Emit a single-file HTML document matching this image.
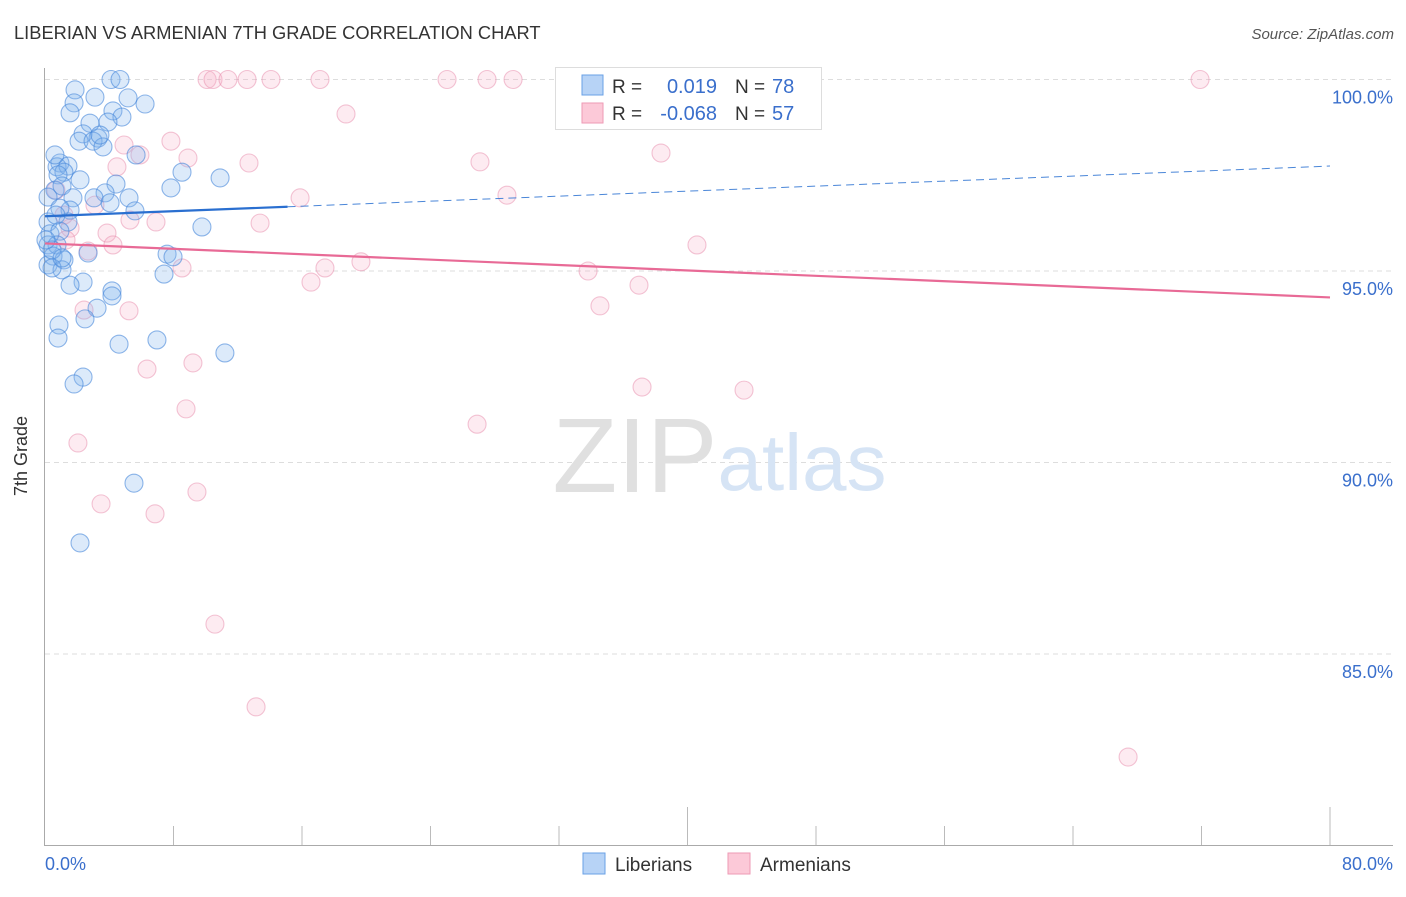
<!DOCTYPE html>
<html><head><meta charset="utf-8"><style>
body{margin:0;background:#fff;font-family:"Liberation Sans",sans-serif;}
svg text{font-family:"Liberation Sans",sans-serif;}
</style></head><body>
<svg width="1406" height="892" viewBox="0 0 1406 892">
<text x="14" y="39" font-size="18.3" fill="#333">LIBERIAN VS ARMENIAN 7TH GRADE CORRELATION CHART</text>
<text x="1394" y="39" font-size="15" fill="#555" text-anchor="end" font-style="italic">Source: ZipAtlas.com</text>
<g id="grid"></g>
<g>
<text x="635" y="492" font-size="106" fill="#e0e0e0" text-anchor="middle" font-family="Liberation Serif">ZIP</text>
<text x="802" y="490" font-size="80" fill="#d6e4f5" text-anchor="middle">atlas</text>
</g>
<line x1="44.5" y1="68" x2="44.5" y2="846" stroke="#aaa"/>
<line x1="44" y1="845.5" x2="1393" y2="845.5" stroke="#aaa"/>
<g id="ticks"></g>
<text x="27" y="456" font-size="18" fill="#333" text-anchor="middle" transform="rotate(-90 27 456)">7th Grade</text>
<text x="45" y="870" font-size="18" fill="#3a6fcc">0.0%</text>
<text x="1393" y="870" font-size="18" fill="#3a6fcc" text-anchor="end">80.0%</text>
<g id="pink"></g>
<g id="blue"></g>
<g id="trends"></g>
<g>
<rect x="555.5" y="67.5" width="266" height="62" fill="#fff" stroke="#ddd"/>
<rect x="582" y="75" width="21" height="20" fill="#b7d3f6" stroke="#6aa0e6"/>
<rect x="582" y="103" width="21" height="20" fill="#fcc9d8" stroke="#ee9ab5"/>
<text x="612" y="93" font-size="19" fill="#333">R = </text>
<text x="717" y="93" font-size="20" fill="#3a6fcc" text-anchor="end">0.019</text>
<text x="735" y="93" font-size="19" fill="#333">N = </text><text x="772" y="93" font-size="20" fill="#3a6fcc">78</text>
<text x="612" y="120" font-size="19" fill="#333">R = </text>
<text x="717" y="120" font-size="20" fill="#3a6fcc" text-anchor="end">-0.068</text>
<text x="735" y="120" font-size="19" fill="#333">N = </text><text x="772" y="120" font-size="20" fill="#3a6fcc">57</text>
</g>
<g>
<rect x="583" y="853" width="22" height="21" fill="#b7d3f6" stroke="#6aa0e6"/>
<text x="615" y="871" font-size="19" fill="#333">Liberians</text>
<rect x="728" y="853" width="22" height="21" fill="#fcc9d8" stroke="#ee9ab5"/>
<text x="760" y="871" font-size="19" fill="#333">Armenians</text>
</g>
</svg>
<script>
const yTicks=[100,95,90,85];
const yTickLabels=["100.0%","95.0%","90.0%","85.0%"];
const xTicks=[8,16,24,32,40,48,56,64,72,80];
const blueX=[4.11,4.67,1.87,3.11,5.17,1.81,6.23,1.56,4.23,4.79,3.92,2.80,2.37,3.30,2.12,2.99,3.61,5.67,0.93,0.75,1.43,1.18,0.81,2.18,4.42,0.62,7.84,8.53,10.9,1.06,3.74,5.23,3.05,1.74,1.56,4.05,5.60,0.19,0.19,1.43,0.31,0.93,0.19,0.75,2.68,7.60,7.97,0.50,1.18,0.19,1.06,7.41,2.37,1.56,4.17,4.17,3.24,2.49,0.87,0.81,6.97,4.61,11.2,2.37,1.81,5.54,2.18,9.77,0.93,0.44,0.06,0.62,3.42,0.68,0.44,1.06];
const blueY=[100,100,99.73,99.54,99.52,99.39,99.36,99.13,99.18,99.02,98.89,98.86,98.58,98.47,98.39,98.39,98.24,98.03,97.82,97.72,97.74,97.58,97.51,97.38,97.27,97.11,97.17,97.58,97.43,97.22,97.04,96.91,96.91,96.91,96.59,96.78,96.57,96.93,96.28,96.28,95.97,96.04,95.68,95.68,95.47,95.44,95.37,95.39,95.29,95.16,95.03,94.92,94.71,94.63,94.48,94.35,94.03,93.75,93.59,93.25,93.20,93.09,92.86,92.23,92.05,89.46,87.90,96.15,96.64,95.55,95.81,98.03,98.55,96.46,95.08,95.34];
const pinkX=[10.09,10.46,11.39,12.58,14.07,17.12,25.03,27.52,29.14,32.75,71.91,18.74,7.84,4.92,5.91,8.90,4.48,12.70,27.08,38.35,15.88,28.76,3.11,0.68,6.91,5.29,13.39,1.56,3.86,1.31,2.68,4.23,40.59,19.67,17.43,8.53,16.56,33.81,36.98,34.55,2.43,5.23,6.35,9.21,37.17,43.52,8.78,26.90,2.05,3.49,9.46,6.85,10.58,13.14,67.43,1.18];
const pinkY=[100,100,100,100,100,100,100,100,100,100,100,99.10,98.39,98.29,98.03,97.95,97.72,97.82,97.85,98.08,96.91,96.98,96.72,97.11,96.28,96.33,96.25,96.12,95.99,95.81,95.52,95.68,95.68,95.24,95.08,95.08,94.71,95.00,94.63,94.09,93.98,93.96,92.44,92.60,91.97,91.89,91.40,91.00,90.51,88.92,89.23,88.66,85.78,83.62,82.31,96.46];
const blueTrend=[96.43,97.74], blueSolidEnd=15.1;
const pinkTrend=[95.72,94.31];
const NS="http://www.w3.org/2000/svg";
const X=v=>45+v/80*1285;
const Y=v=>79.5+(100-v)*38.3;
function mk(t,a,p){const e=document.createElementNS(NS,t);for(const k in a)e.setAttribute(k,a[k]);p.appendChild(e);return e;}
const grid=document.getElementById('grid');
yTicks.forEach((v,i)=>{
 const l=mk('line',{x1:45,x2:1393,y1:Y(v),y2:Y(v),stroke:'#ddd','stroke-dasharray':'5,4'},grid);
 
 
 const t=mk('text',{x:1393,y:Y(v)+24,'font-size':18,fill:'#3a6fcc','text-anchor':'end'},grid);
 t.textContent=yTickLabels[i];
 
 
});
const ticks=document.getElementById('ticks');
xTicks.forEach(v=>{
 const l=mk('line',{x1:X(v),x2:X(v),y1:(v%40===0)?807:826,y2:845,stroke:'#bbb'},ticks);
 
 
});
function pts(xs,ys,g,fill,stroke,name){
 xs.forEach((x,i)=>{
  const c=mk('circle',{cx:X(x),cy:Y(ys[i]),r:9,fill:fill,stroke:stroke,'stroke-width':1.1},g);
  
  
 });
}
pts(pinkX,pinkY,document.getElementById('pink'),'rgba(246,175,200,0.25)','rgba(232,140,172,0.5)','armenian-point');
pts(blueX,blueY,document.getElementById('blue'),'rgba(130,178,238,0.28)','rgba(70,135,218,0.6)','liberian-point');
const tr=document.getElementById('trends');
const bAt=x=>blueTrend[0]+(blueTrend[1]-blueTrend[0])*x/80;
const b1=mk('line',{x1:X(0),y1:Y(bAt(0)),x2:X(blueSolidEnd),y2:Y(bAt(blueSolidEnd)),stroke:'#2a6fd0','stroke-width':2.2},tr);


const b2=mk('line',{x1:X(blueSolidEnd),y1:Y(bAt(blueSolidEnd)),x2:X(80),y2:Y(bAt(80)),stroke:'#4a86d8','stroke-width':1,'stroke-dasharray':'8,5'},tr);


const p1=mk('line',{x1:X(0),y1:Y(pinkTrend[0]),x2:X(80),y2:Y(pinkTrend[1]),stroke:'#e86a96','stroke-width':2.2},tr);


</script>
</body></html>
